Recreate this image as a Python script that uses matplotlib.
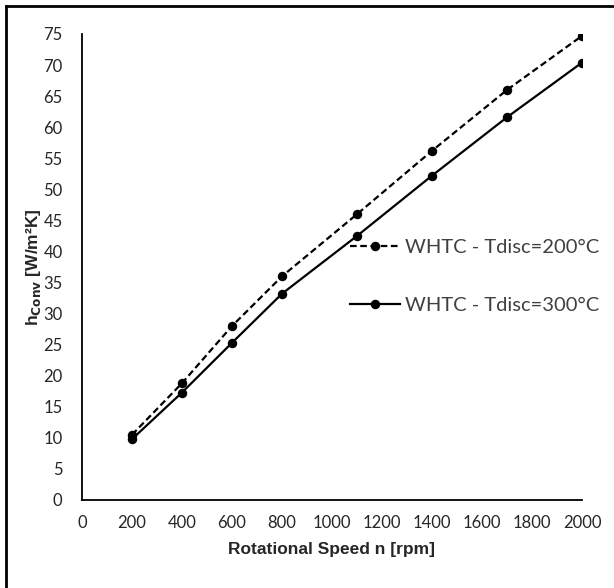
import matplotlib.pyplot as plt
from matplotlib.lines import Line2D

# Data
speed = [200, 400, 600, 800, 1100, 1400, 1700, 2000]
h_200 = [10.5, 18.8, 28.0, 36.0, 46.0, 56.2, 66.0, 74.7]
h_300 = [9.8, 17.3, 25.3, 33.2, 42.5, 52.2, 61.6, 70.4]
labels = ["WHTC - Tdisc=200°C", "WHTC - Tdisc=300°C"]

fig = plt.figure(figsize=(6.14, 5.88), dpi=100)
ax = fig.add_axes([82 / 614, 88 / 588, 500 / 614, 466 / 588])

ax.plot(speed, h_200, color="black", linestyle=(0, (3, 1.6)), linewidth=1.6,
        marker="o", markersize=5.8, label=labels[0])
ax.plot(speed, h_300, color="black", linestyle="-", linewidth=1.6,
        marker="o", markersize=5.8, label=labels[1])

ax.set_xlim(0, 2000)
ax.set_ylim(0, 75)
ax.set_xticks(range(0, 2001, 200))
ax.set_yticks(range(0, 76, 5))
ax.tick_params(length=0, labelsize=12, labelcolor="#262626")
ax.tick_params(axis="x", pad=11)
ax.tick_params(axis="y", pad=14)
for lab in ax.get_xticklabels() + ax.get_yticklabels():
    lab.set_family("Lato")

for s in ["top", "right"]:
    ax.spines[s].set_visible(False)
for s in ["left", "bottom"]:
    ax.spines[s].set_linewidth(1.3)
    ax.spines[s].set_color("black")

ax.set_xlabel("Rotational Speed n [rpm]", family="Liberation Sans",
              fontweight="bold", fontsize=12.5, color="#262626", labelpad=8)
ax.set_ylabel(r"h$_{\mathbf{Conv}}$ [W/m²K]", family="Liberation Sans",
              fontweight="bold", fontsize=12.5, color="#262626")
ax.yaxis.set_label_coords(-0.078, 0.5)

leg = ax.legend(loc="center left", bbox_to_anchor=(340 / 614, 1 - 276.5 / 588),
                bbox_transform=fig.transFigure, frameon=False, borderpad=0,
                prop={"family": "Lato", "size": 14.5}, labelcolor="#404040",
                handlelength=2.5, handletextpad=0.25, labelspacing=2.0)

# figure border (left and top only)
fig.add_artist(Line2D([6 / 614, 6 / 614], [0, 1 - 6 / 588], transform=fig.transFigure,
                      color="black", linewidth=2))
fig.add_artist(Line2D([6 / 614, 1], [1 - 6 / 588, 1 - 6 / 588], transform=fig.transFigure,
                      color="black", linewidth=2))

fig.savefig("out.png", dpi=100)
